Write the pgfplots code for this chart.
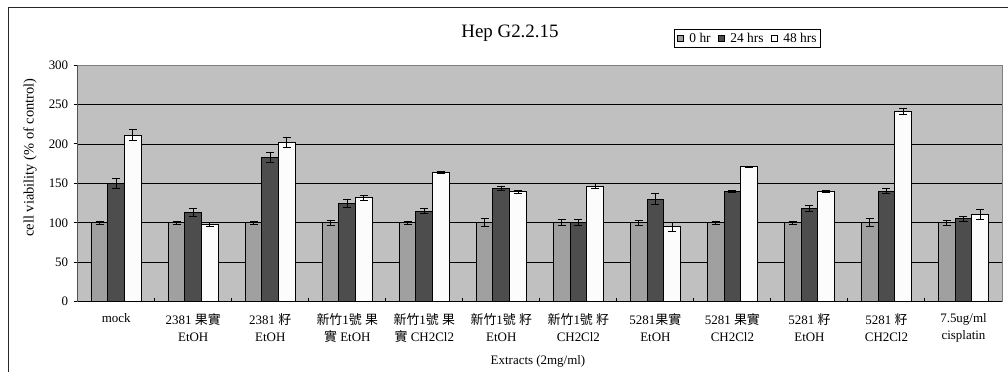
\documentclass[border=0pt]{standalone}
\usepackage{pgfplots}
\pgfplotsset{compat=1.18}
\usepackage{pgfplotstable}
\usepackage{fontspec}
\setmainfont{Liberation Serif}
\newfontfamily\cjk{Noto Sans CJK TC}
\definecolor{bgc}{RGB}{192,192,192}
\definecolor{czero}{RGB}{160,160,160}
\definecolor{cday}{RGB}{77,77,77}
\definecolor{ctwo}{RGB}{252,252,252}
\definecolor{frameg}{RGB}{128,128,128}

\pgfplotstableread{
x y e
0 100 2
1 100 2
2 100 2
3 100 3
4 100 2
5 100 5
6 100 4
7 100 3
8 100 2
9 100 2
10 100 5
11 100 3
}\tzero
\pgfplotstableread{
x y e
0 150 6
1 113 5
2 183 6
3 125 5
4 114.5 3
5 143.5 3
6 100 4
7 130 7
8 140 1
9 118 4
10 140 3
11 105 3
}\tday
\pgfplotstableread{
x y e
0 211 7
1 98 3
2 201.5 6
3 131.5 3
4 163.5 1
5 139.5 2
6 146.5 3
7 95 6
8 171 0.5
9 140 1
10 241 4
11 110.5 6
}\ttwo

\pgfplotsset{myerr/.style={error bars/.cd, y dir=both, y explicit,
  error bar style={black, line width=1bp},
  error mark options={black, rotate=90, mark size=4bp, line width=1bp}}}

\begin{document}
\begin{tikzpicture}
\path[use as bounding box] (0,0) rectangle (1008bp,372bp);
\draw[line width=1.5bp, black!85] (8.5bp,0) -- (8.5bp,364.5bp) -- (1008bp,364.5bp);
\begin{axis}[
  at={(77.7bp,70.3bp)}, anchor=south west,
  scale only axis, width=924.3bp, height=236.7bp,
  ybar=0pt, bar width=16.7bp,
  xmin=-0.5, xmax=11.5, ymin=0, ymax=300,
  axis background/.style={fill=bgc},
  axis line style={draw=frameg, line width=1bp},
  ytick={0,50,...,300},
  ymajorgrids, major grid style={black, line width=0.8bp},
  tick align=outside, tick pos=left,
  major tick length=4bp, minor tick length=4bp,
  major y tick style={black, line width=1bp},
  xtick={0,...,11},
  major x tick style={draw=none},
  minor xtick={0.5,1.5,...,10.5},
  minor x tick style={black, line width=1bp, yshift=4bp},
  xticklabels={mock,
    {2381 {\cjk 果實}\\EtOH},
    {2381 {\cjk 籽}\\EtOH},
    {{\cjk 新竹}1{\cjk 號} {\cjk 果}\\{\cjk 實} EtOH},
    {{\cjk 新竹}1{\cjk 號} {\cjk 果}\\{\cjk 實} CH2Cl2},
    {{\cjk 新竹}1{\cjk 號} {\cjk 籽}\\EtOH},
    {{\cjk 新竹}1{\cjk 號} {\cjk 籽}\\CH2Cl2},
    {5281{\cjk 果實}\\EtOH},
    {5281 {\cjk 果實}\\CH2Cl2},
    {5281 {\cjk 籽}\\EtOH},
    {5281 {\cjk 籽}\\CH2Cl2},
    {7.5ug/ml\\cisplatin}},
  xticklabel style={align=center, font=\fontsize{13}{17.5}\selectfont, yshift=-4bp},
  yticklabel style={font=\fontsize{13}{15}\selectfont, xshift=-2bp},
  /pgf/number format/assume math mode=true,
  ylabel={cell viability (\% of control)},
  every axis y label/.style={at={(rel axis cs:-0.0516,0.609)}, rotate=90, anchor=center, font=\fontsize{14.5}{16}\selectfont},
  xlabel={Extracts (2mg/ml)},
  every axis x label/.style={at={(rel axis cs:0.498,-0.2505)}, anchor=center, font=\fontsize{13}{15}\selectfont},
  title={Hep G2.2.15},
  every axis title/.style={at={(rel axis cs:0.4677,1.135)}, anchor=center, font=\fontsize{19}{21}\selectfont},
  legend columns=3,
  legend style={at={(rel axis cs:0.6455,1.1515)}, anchor=north west, draw=black, line width=0.8bp, fill=white,
    font=\fontsize{13.5}{15}\selectfont, inner xsep=2bp, inner ysep=1.5bp,
    /tikz/every even column/.append style={column sep=5bp}},
  legend image code/.code={\draw[#1, draw=black, line width=0.8bp] (0bp,-3.2bp) rectangle (6.4bp,3.2bp);},
]
\addplot[fill=czero, draw=black, line width=1bp, myerr] table[x=x, y=y, y error=e] {\tzero};
\addplot[fill=cday, draw=black, line width=1bp, myerr] table[x=x, y=y, y error=e] {\tday};
\addplot[fill=ctwo, draw=black, line width=1bp, myerr] table[x=x, y=y, y error=e] {\ttwo};
\legend{\hspace{3.5bp}0 hr, \hspace{3.5bp}24 hrs, \hspace{3.5bp}48 hrs}
\draw[black, line width=1.5bp] (rel axis cs:0,1) -- (rel axis cs:0,0) -- (rel axis cs:1,0);
\end{axis}
\end{tikzpicture}
\end{document}
